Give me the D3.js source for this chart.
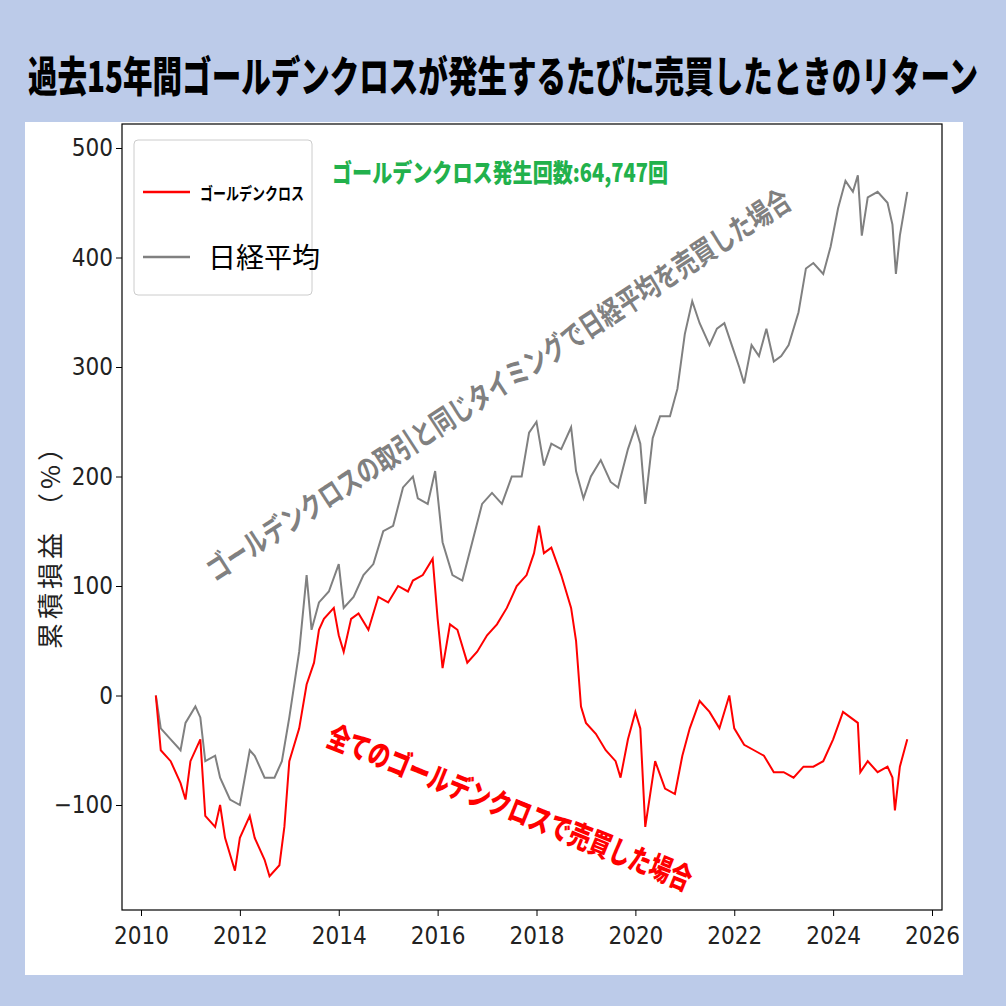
<!DOCTYPE html>
<html><head><meta charset="utf-8">
<script src="https://cdn.jsdelivr.net/npm/d3@7"></script>
<style>body{margin:0;background:#bccbe9}</style></head>
<body><svg id="c" width="1006" height="1006"></svg>
<script>
const redT=[2010.3,2010.4,2010.6,2010.8,2010.9,2011.0,2011.2,2011.3,2011.5,2011.6,2011.7,2011.9,2012.0,2012.2,2012.3,2012.5,2012.6,2012.8,2012.9,2013.0,2013.2,2013.35,2013.5,2013.6,2013.7,2013.9,2014.0,2014.1,2014.25,2014.4,2014.6,2014.8,2015.0,2015.2,2015.4,2015.5,2015.7,2015.9,2016.0,2016.1,2016.25,2016.4,2016.6,2016.8,2017.0,2017.2,2017.4,2017.6,2017.8,2017.95,2018.05,2018.15,2018.3,2018.5,2018.7,2018.8,2018.9,2019.0,2019.2,2019.4,2019.6,2019.7,2019.85,2020.0,2020.1,2020.2,2020.3,2020.4,2020.6,2020.8,2020.95,2021.1,2021.3,2021.5,2021.7,2021.9,2022.0,2022.2,2022.4,2022.6,2022.8,2023.0,2023.2,2023.4,2023.6,2023.8,2024.0,2024.2,2024.35,2024.5,2024.55,2024.7,2024.9,2025.1,2025.2,2025.25,2025.35,2025.5];
const redV=[0,-50,-60,-80,-95,-60,-40,-110,-120,-100,-130,-160,-130,-110,-130,-150,-165,-155,-120,-60,-30,10,30,60,70,80,55,40,70,75,60,90,85,100,95,105,110,125,70,25,65,60,30,40,55,65,80,100,110,130,155,130,135,110,80,50,-10,-25,-35,-50,-60,-75,-40,-15,-30,-120,-90,-60,-85,-90,-55,-30,-5,-15,-30,0,-30,-45,-50,-55,-70,-70,-75,-65,-65,-60,-40,-15,-20,-25,-70,-60,-70,-65,-75,-105,-65,-40];
const grayT=[2010.3,2010.4,2010.6,2010.8,2010.9,2011.1,2011.2,2011.3,2011.5,2011.6,2011.8,2012.0,2012.2,2012.3,2012.5,2012.7,2012.85,2013.0,2013.2,2013.35,2013.45,2013.6,2013.8,2014.0,2014.1,2014.3,2014.5,2014.7,2014.9,2015.1,2015.3,2015.5,2015.6,2015.8,2015.95,2016.1,2016.3,2016.5,2016.7,2016.9,2017.1,2017.3,2017.5,2017.7,2017.85,2018.0,2018.15,2018.3,2018.5,2018.7,2018.8,2018.95,2019.1,2019.3,2019.5,2019.65,2019.85,2020.0,2020.1,2020.2,2020.35,2020.5,2020.7,2020.85,2021.0,2021.15,2021.3,2021.5,2021.65,2021.8,2021.95,2022.1,2022.2,2022.35,2022.5,2022.65,2022.8,2022.95,2023.1,2023.3,2023.45,2023.6,2023.8,2023.95,2024.1,2024.25,2024.4,2024.5,2024.58,2024.7,2024.9,2025.1,2025.2,2025.27,2025.35,2025.5];
const grayV=[0,-30,-40,-50,-25,-10,-20,-60,-55,-75,-95,-100,-50,-55,-75,-75,-60,-20,40,110,60,85,95,120,80,90,110,120,150,155,190,200,180,175,205,140,110,105,140,175,185,175,200,200,240,250,210,230,225,245,205,180,200,215,195,190,225,245,230,175,235,255,255,280,330,360,340,320,335,340,320,300,285,320,310,335,305,310,320,350,390,395,385,410,445,470,460,475,420,455,460,450,430,385,420,460];
const yTicks=[-100,0,100,200,300,400,500];
const xTicks=[2010,2012,2014,2016,2018,2020,2022,2024,2026];

const svg=d3.select("#c");
const F="'Noto Sans CJK JP','DejaVu Sans Condensed',sans-serif";
svg.append("text").attr("x",503).attr("y",92).attr("text-anchor","middle").attr("font-family",F).attr("font-weight","900").attr("font-size",42).attr("textLength",950).attr("lengthAdjust","spacingAndGlyphs").text("過去15年間ゴールデンクロスが発生するたびに売買したときのリターン");
svg.append("rect").attr("x",25).attr("y",122).attr("width",938).attr("height",853).attr("fill","#fff");
const x=d3.scaleLinear().domain([2010,2026]).range([141,932]);
const y=d3.scaleLinear().domain([-100,500]).range([805,148]);
const L=122,R=942,T=124,B=910;
svg.append("rect").attr("x",L).attr("y",T).attr("width",R-L).attr("height",B-T).attr("fill","none").attr("stroke","#000").attr("stroke-width",1.2);
const ax=svg.append("g").attr("transform",`translate(0,${B})`).call(d3.axisBottom(x).tickValues(xTicks).tickFormat(d3.format("d")).tickSizeOuter(0));
const ay=svg.append("g").attr("transform",`translate(${L},0)`).call(d3.axisLeft(y).tickValues(yTicks).tickFormat(d=>d<0?"\u2212"+(-d):d).tickSizeOuter(0));
[ax,ay].forEach(g=>{g.select(".domain").remove();g.selectAll("text").attr("font-family","'DejaVu Sans Condensed',sans-serif").attr("font-size",24).attr("fill","#222");});
ax.selectAll("text").attr("dy","1.05em");
const line=d3.line().x(d=>x(d[0])).y(d=>y(d[1]));
svg.append("path").datum(grayT.map((t,i)=>[t,grayV[i]])).attr("d",line).attr("fill","none").attr("stroke","#808080").attr("stroke-width",2);
svg.append("path").datum(redT.map((t,i)=>[t,redV[i]])).attr("d",line).attr("fill","none").attr("stroke","#ff0000").attr("stroke-width",2);
svg.append("rect").attr("x",134).attr("y",140).attr("width",178).attr("height",155).attr("rx",4).attr("fill","#fff").attr("stroke","#ccc");
svg.append("line").attr("x1",143).attr("x2",190).attr("y1",192).attr("y2",192).attr("stroke","#f00").attr("stroke-width",2.5);
svg.append("text").attr("x",200).attr("y",200).attr("font-family",F).attr("font-weight","bold").attr("font-size",17).attr("textLength",104).attr("lengthAdjust","spacingAndGlyphs").text("ゴールデンクロス");
svg.append("line").attr("x1",143).attr("x2",190).attr("y1",257).attr("y2",257).attr("stroke","#808080").attr("stroke-width",2.5);
svg.append("text").attr("x",208).attr("y",268).attr("font-family",F).attr("font-size",28).text("日経平均");
svg.append("text").attr("x",500).attr("y",182).attr("text-anchor","middle").attr("font-family",F).attr("font-weight","900").attr("font-size",25).attr("fill","#22b14c").attr("textLength",336).attr("lengthAdjust","spacingAndGlyphs").text("ゴールデンクロス発生回数:64,747回");
svg.append("text").attr("transform","translate(60,540) rotate(-90)").attr("text-anchor","middle").attr("font-family",F).attr("font-size",26).attr("fill","#222").attr("letter-spacing",4).text("累積損益 （%）");
svg.append("text").attr("transform","translate(215,582) rotate(-33)").attr("font-family",F).attr("font-weight","bold").attr("font-size",30).attr("fill","#808080").attr("textLength",690).attr("lengthAdjust","spacingAndGlyphs").text("ゴールデンクロスの取引と同じタイミングで日経平均を売買した場合");
svg.append("text").attr("transform","translate(325,745) rotate(22)").attr("font-family",F).attr("font-weight","900").attr("font-size",30).attr("fill","#f00").attr("textLength",390).attr("lengthAdjust","spacingAndGlyphs").text("全てのゴールデンクロスで売買した場合");
</script></body></html>
